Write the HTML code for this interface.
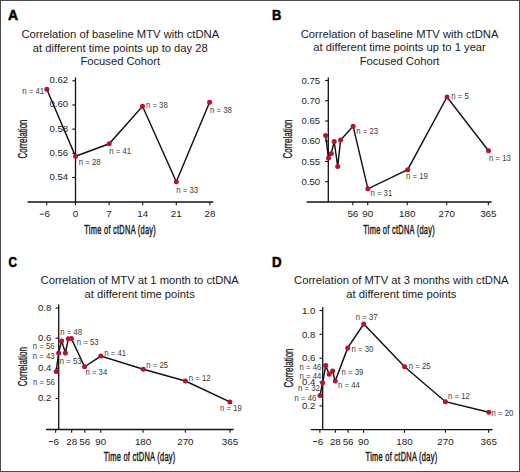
<!DOCTYPE html>
<html><head><meta charset="utf-8"><style>
html,body{margin:0;padding:0;background:#fff;}
body{width:520px;height:472px;overflow:hidden;}
svg{display:block;font-family:"Liberation Sans", sans-serif;}
</style></head><body>
<svg width="520" height="472" viewBox="0 0 520 472">
<rect x="0" y="0" width="520" height="472" fill="#fff"/>
<text x="120.30" y="38.00" font-size="11.22" text-anchor="middle" fill="#1a1a1a" font-weight="normal" >Correlation of baseline MTV with ctDNA</text>
<text x="120.30" y="51.50" font-size="11.22" text-anchor="middle" fill="#1a1a1a" font-weight="normal" >at different time points up to day 28</text>
<text x="120.30" y="65.00" font-size="11.22" text-anchor="middle" fill="#1a1a1a" font-weight="normal" >Focused Cohort</text>
<text transform="translate(8.1,19.7) scale(1,1)" font-size="14" font-weight="bold" fill="#000" stroke="#000" stroke-width="0.55">A</text>
<line x1="75.5" y1="77.5" x2="75.5" y2="202.0" stroke="#111" stroke-width="1.3"/>
<line x1="27.5" y1="202.0" x2="213.3" y2="202.0" stroke="#111" stroke-width="1.3"/>
<line x1="72.3" y1="80.8" x2="75.5" y2="80.8" stroke="#111" stroke-width="1.1"/>
<text x="68.15" y="83.30" font-size="9.55" text-anchor="end" fill="#222" font-weight="normal" >0.62</text>
<line x1="72.3" y1="104.98" x2="75.5" y2="104.98" stroke="#111" stroke-width="1.1"/>
<text x="68.15" y="107.48" font-size="9.55" text-anchor="end" fill="#222" font-weight="normal" >0.60</text>
<line x1="72.3" y1="129.15" x2="75.5" y2="129.15" stroke="#111" stroke-width="1.1"/>
<text x="68.15" y="131.65" font-size="9.55" text-anchor="end" fill="#222" font-weight="normal" >0.58</text>
<line x1="72.3" y1="153.32" x2="75.5" y2="153.32" stroke="#111" stroke-width="1.1"/>
<text x="68.15" y="155.82" font-size="9.55" text-anchor="end" fill="#222" font-weight="normal" >0.56</text>
<line x1="72.3" y1="177.5" x2="75.5" y2="177.5" stroke="#111" stroke-width="1.1"/>
<text x="68.15" y="180.00" font-size="9.55" text-anchor="end" fill="#222" font-weight="normal" >0.54</text>
<line x1="46.7" y1="202.0" x2="46.7" y2="205.2" stroke="#111" stroke-width="1.1"/>
<text x="47.20" y="217.40" font-size="9.8" text-anchor="middle" fill="#222" font-weight="normal" >6</text>
<rect x="39.83" y="213.70" width="4.1" height="0.9" fill="#222"/>
<line x1="75.5" y1="202.0" x2="75.5" y2="205.2" stroke="#111" stroke-width="1.1"/>
<text x="75.50" y="217.40" font-size="9.8" text-anchor="middle" fill="#222" font-weight="normal" >0</text>
<line x1="109.1" y1="202.0" x2="109.1" y2="205.2" stroke="#111" stroke-width="1.1"/>
<text x="109.10" y="217.40" font-size="9.8" text-anchor="middle" fill="#222" font-weight="normal" >7</text>
<line x1="142.7" y1="202.0" x2="142.7" y2="205.2" stroke="#111" stroke-width="1.1"/>
<text x="142.70" y="217.40" font-size="9.8" text-anchor="middle" fill="#222" font-weight="normal" >14</text>
<line x1="176.3" y1="202.0" x2="176.3" y2="205.2" stroke="#111" stroke-width="1.1"/>
<text x="176.30" y="217.40" font-size="9.8" text-anchor="middle" fill="#222" font-weight="normal" >21</text>
<line x1="209.9" y1="202.0" x2="209.9" y2="205.2" stroke="#111" stroke-width="1.1"/>
<text x="209.90" y="217.40" font-size="9.8" text-anchor="middle" fill="#222" font-weight="normal" >28</text>
<text transform="translate(120.20,233.90) scale(0.6,1)" x="0" y="0" font-size="12.4" letter-spacing="0.45" text-anchor="middle" fill="#1a1a1a" stroke="#1a1a1a" stroke-width="0.45">Time of ctDNA (day)</text>
<text transform="translate(27.30,139.00) rotate(-90) scale(0.645,1)" x="0" y="0" font-size="12.4" text-anchor="middle" fill="#1a1a1a" stroke="#1a1a1a" stroke-width="0.3">Correlation</text>
<polyline points="46.8,89.2 75.5,156.3 109.2,143.8 142.5,106.3 176.3,181.8 209.6,102.3" fill="none" stroke="#111" stroke-width="1.45" stroke-linejoin="miter"/>
<circle cx="46.8" cy="89.2" r="2.5" fill="#bd0f2f"/>
<circle cx="75.5" cy="156.3" r="2.5" fill="#bd0f2f"/>
<circle cx="109.2" cy="143.8" r="2.5" fill="#bd0f2f"/>
<circle cx="142.5" cy="106.3" r="2.5" fill="#bd0f2f"/>
<circle cx="176.3" cy="181.8" r="2.5" fill="#bd0f2f"/>
<circle cx="209.6" cy="102.3" r="2.5" fill="#bd0f2f"/>
<text transform="translate(22.20,94.20) scale(0.95,1)" font-size="8.2" fill="#3a3a3a">n = 41</text>
<text transform="translate(78.80,164.70) scale(0.95,1)" font-size="8.2" fill="#3a3a3a">n = 28</text>
<text transform="translate(109.30,154.20) scale(0.95,1)" font-size="8.2" fill="#3a3a3a">n = 41</text>
<text transform="translate(145.90,108.00) scale(0.95,1)" font-size="8.2" fill="#3a3a3a">n = 38</text>
<text transform="translate(176.30,193.00) scale(0.95,1)" font-size="8.2" fill="#3a3a3a">n = 33</text>
<text transform="translate(210.00,112.50) scale(0.95,1)" font-size="8.2" fill="#3a3a3a">n = 38</text>
<text x="399.60" y="37.80" font-size="11.22" text-anchor="middle" fill="#1a1a1a" font-weight="normal" >Correlation of baseline MTV with ctDNA</text>
<text x="399.60" y="51.30" font-size="11.22" text-anchor="middle" fill="#1a1a1a" font-weight="normal" >at different time points up to 1 year</text>
<text x="399.60" y="64.80" font-size="11.22" text-anchor="middle" fill="#1a1a1a" font-weight="normal" >Focused Cohort</text>
<text transform="translate(272.0,20.0) scale(0.92,1)" font-size="14" font-weight="bold" fill="#000" stroke="#000" stroke-width="0.55">B</text>
<line x1="328.3" y1="77.5" x2="328.3" y2="202.0" stroke="#111" stroke-width="1.3"/>
<line x1="306.7" y1="202.0" x2="491.7" y2="202.0" stroke="#111" stroke-width="1.3"/>
<line x1="325.1" y1="80.5" x2="328.3" y2="80.5" stroke="#111" stroke-width="1.1"/>
<text x="320.20" y="83.60" font-size="9.55" text-anchor="end" fill="#222" font-weight="normal" >0.75</text>
<line x1="325.1" y1="100.74" x2="328.3" y2="100.74" stroke="#111" stroke-width="1.1"/>
<text x="320.20" y="103.84" font-size="9.55" text-anchor="end" fill="#222" font-weight="normal" >0.70</text>
<line x1="325.1" y1="120.98" x2="328.3" y2="120.98" stroke="#111" stroke-width="1.1"/>
<text x="320.20" y="124.08" font-size="9.55" text-anchor="end" fill="#222" font-weight="normal" >0.65</text>
<line x1="325.1" y1="141.22" x2="328.3" y2="141.22" stroke="#111" stroke-width="1.1"/>
<text x="320.20" y="144.32" font-size="9.55" text-anchor="end" fill="#222" font-weight="normal" >0.60</text>
<line x1="325.1" y1="161.46" x2="328.3" y2="161.46" stroke="#111" stroke-width="1.1"/>
<text x="320.20" y="164.56" font-size="9.55" text-anchor="end" fill="#222" font-weight="normal" >0.55</text>
<line x1="325.1" y1="181.7" x2="328.3" y2="181.7" stroke="#111" stroke-width="1.1"/>
<text x="320.20" y="184.80" font-size="9.55" text-anchor="end" fill="#222" font-weight="normal" >0.50</text>
<line x1="352.86" y1="202.0" x2="352.86" y2="205.2" stroke="#111" stroke-width="1.1"/>
<text x="352.86" y="217.40" font-size="9.8" text-anchor="middle" fill="#222" font-weight="normal" >56</text>
<line x1="367.76" y1="202.0" x2="367.76" y2="205.2" stroke="#111" stroke-width="1.1"/>
<text x="367.76" y="217.40" font-size="9.8" text-anchor="middle" fill="#222" font-weight="normal" >90</text>
<line x1="407.23" y1="202.0" x2="407.23" y2="205.2" stroke="#111" stroke-width="1.1"/>
<text x="407.23" y="217.40" font-size="9.8" text-anchor="middle" fill="#222" font-weight="normal" >180</text>
<line x1="446.69" y1="202.0" x2="446.69" y2="205.2" stroke="#111" stroke-width="1.1"/>
<text x="446.69" y="217.40" font-size="9.8" text-anchor="middle" fill="#222" font-weight="normal" >270</text>
<line x1="488.35" y1="202.0" x2="488.35" y2="205.2" stroke="#111" stroke-width="1.1"/>
<text x="488.35" y="217.40" font-size="9.8" text-anchor="middle" fill="#222" font-weight="normal" >365</text>
<text transform="translate(399.10,233.90) scale(0.6,1)" x="0" y="0" font-size="12.4" letter-spacing="0.45" text-anchor="middle" fill="#1a1a1a" stroke="#1a1a1a" stroke-width="0.45">Time of ctDNA (day)</text>
<text transform="translate(292.20,139.00) rotate(-90) scale(0.645,1)" x="0" y="0" font-size="12.4" text-anchor="middle" fill="#1a1a1a" stroke="#1a1a1a" stroke-width="0.3">Correlation</text>
<polyline points="325.6,135.6 328.5,157.9 331.3,153.5 334.2,141.5 337.7,166.5 340.6,140.0 353.1,126.2 367.9,188.8 407.7,169.7 447.0,97.0 488.5,150.8" fill="none" stroke="#111" stroke-width="1.45" stroke-linejoin="miter"/>
<circle cx="325.6" cy="135.6" r="2.5" fill="#bd0f2f"/>
<circle cx="328.5" cy="157.9" r="2.5" fill="#bd0f2f"/>
<circle cx="331.3" cy="153.5" r="2.5" fill="#bd0f2f"/>
<circle cx="334.2" cy="141.5" r="2.5" fill="#bd0f2f"/>
<circle cx="337.7" cy="166.5" r="2.5" fill="#bd0f2f"/>
<circle cx="340.6" cy="140.0" r="2.5" fill="#bd0f2f"/>
<circle cx="353.1" cy="126.2" r="2.5" fill="#bd0f2f"/>
<circle cx="367.9" cy="188.8" r="2.5" fill="#bd0f2f"/>
<circle cx="407.7" cy="169.7" r="2.5" fill="#bd0f2f"/>
<circle cx="447.0" cy="97.0" r="2.5" fill="#bd0f2f"/>
<circle cx="488.5" cy="150.8" r="2.5" fill="#bd0f2f"/>
<text transform="translate(356.30,134.30) scale(0.95,1)" font-size="8.2" fill="#3a3a3a">n = 23</text>
<text transform="translate(370.40,195.70) scale(0.95,1)" font-size="8.2" fill="#3a3a3a">n = 31</text>
<text transform="translate(406.00,179.40) scale(0.95,1)" font-size="8.2" fill="#3a3a3a">n = 19</text>
<text transform="translate(451.20,98.80) scale(0.95,1)" font-size="8.2" fill="#3a3a3a">n = 5</text>
<text transform="translate(489.00,161.00) scale(0.95,1)" font-size="8.2" fill="#3a3a3a">n = 13</text>
<text x="139.70" y="284.30" font-size="11.22" text-anchor="middle" fill="#1a1a1a" font-weight="normal" >Correlation of MTV at 1 month to ctDNA</text>
<text x="139.70" y="298.20" font-size="11.22" text-anchor="middle" fill="#1a1a1a" font-weight="normal" >at different time points</text>
<text transform="translate(8.6,266.5) scale(0.84,1)" font-size="14" font-weight="bold" fill="#000" stroke="#000" stroke-width="0.55">C</text>
<line x1="58.7" y1="304.5" x2="58.7" y2="429.5" stroke="#111" stroke-width="1.3"/>
<line x1="46.0" y1="429.5" x2="233.7" y2="429.5" stroke="#111" stroke-width="1.3"/>
<line x1="55.5" y1="308.0" x2="58.7" y2="308.0" stroke="#111" stroke-width="1.1"/>
<text x="51.35" y="310.80" font-size="9.55" text-anchor="end" fill="#222" font-weight="normal" >0.8</text>
<line x1="55.5" y1="338.17" x2="58.7" y2="338.17" stroke="#111" stroke-width="1.1"/>
<text x="51.35" y="340.97" font-size="9.55" text-anchor="end" fill="#222" font-weight="normal" >0.6</text>
<line x1="55.5" y1="368.34" x2="58.7" y2="368.34" stroke="#111" stroke-width="1.1"/>
<text x="51.35" y="371.14" font-size="9.55" text-anchor="end" fill="#222" font-weight="normal" >0.4</text>
<line x1="55.5" y1="398.51" x2="58.7" y2="398.51" stroke="#111" stroke-width="1.1"/>
<text x="51.35" y="401.31" font-size="9.55" text-anchor="end" fill="#222" font-weight="normal" >0.2</text>
<line x1="55.68" y1="429.5" x2="55.68" y2="432.7" stroke="#111" stroke-width="1.1"/>
<text x="56.18" y="444.80" font-size="9.8" text-anchor="middle" fill="#222" font-weight="normal" >6</text>
<rect x="48.81" y="441.10" width="4.1" height="0.9" fill="#222"/>
<line x1="71.66" y1="429.5" x2="71.66" y2="432.7" stroke="#111" stroke-width="1.1"/>
<text x="71.66" y="444.80" font-size="9.8" text-anchor="middle" fill="#222" font-weight="normal" >28</text>
<line x1="84.81" y1="429.5" x2="84.81" y2="432.7" stroke="#111" stroke-width="1.1"/>
<text x="84.81" y="444.80" font-size="9.8" text-anchor="middle" fill="#222" font-weight="normal" >56</text>
<line x1="100.79" y1="429.5" x2="100.79" y2="432.7" stroke="#111" stroke-width="1.1"/>
<text x="100.79" y="444.80" font-size="9.8" text-anchor="middle" fill="#222" font-weight="normal" >90</text>
<line x1="143.08" y1="429.5" x2="143.08" y2="432.7" stroke="#111" stroke-width="1.1"/>
<text x="143.08" y="444.80" font-size="9.8" text-anchor="middle" fill="#222" font-weight="normal" >180</text>
<line x1="185.37" y1="429.5" x2="185.37" y2="432.7" stroke="#111" stroke-width="1.1"/>
<text x="185.37" y="444.80" font-size="9.8" text-anchor="middle" fill="#222" font-weight="normal" >270</text>
<line x1="230.01" y1="429.5" x2="230.01" y2="432.7" stroke="#111" stroke-width="1.1"/>
<text x="230.01" y="444.80" font-size="9.8" text-anchor="middle" fill="#222" font-weight="normal" >365</text>
<text transform="translate(139.65,461.00) scale(0.6,1)" x="0" y="0" font-size="12.4" letter-spacing="0.45" text-anchor="middle" fill="#1a1a1a" stroke="#1a1a1a" stroke-width="0.45">Time of ctDNA (day)</text>
<text transform="translate(26.90,366.70) rotate(-90) scale(0.645,1)" x="0" y="0" font-size="12.4" text-anchor="middle" fill="#1a1a1a" stroke="#1a1a1a" stroke-width="0.3">Correlation</text>
<polyline points="56.2,371.5 58.6,353.0 61.6,340.9 65.4,353.0 68.3,338.8 71.4,338.6 84.6,366.8 100.8,356.1 143.3,369.2 185.4,381.0 229.9,401.9" fill="none" stroke="#111" stroke-width="1.45" stroke-linejoin="miter"/>
<circle cx="56.2" cy="371.5" r="2.5" fill="#bd0f2f"/>
<circle cx="58.6" cy="353.0" r="2.5" fill="#bd0f2f"/>
<circle cx="61.6" cy="340.9" r="2.5" fill="#bd0f2f"/>
<circle cx="65.4" cy="353.0" r="2.5" fill="#bd0f2f"/>
<circle cx="68.3" cy="338.8" r="2.5" fill="#bd0f2f"/>
<circle cx="71.4" cy="338.6" r="2.5" fill="#bd0f2f"/>
<circle cx="84.6" cy="366.8" r="2.5" fill="#bd0f2f"/>
<circle cx="100.8" cy="356.1" r="2.5" fill="#bd0f2f"/>
<circle cx="143.3" cy="369.2" r="2.5" fill="#bd0f2f"/>
<circle cx="185.4" cy="381.0" r="2.5" fill="#bd0f2f"/>
<circle cx="229.9" cy="401.9" r="2.5" fill="#bd0f2f"/>
<text transform="translate(33.00,384.50) scale(0.95,1)" font-size="8.2" fill="#3a3a3a">n = 56</text>
<text transform="translate(32.80,359.10) scale(0.95,1)" font-size="8.2" fill="#3a3a3a">n = 43</text>
<text transform="translate(32.80,349.20) scale(0.95,1)" font-size="8.2" fill="#3a3a3a">n = 56</text>
<text transform="translate(59.70,364.00) scale(0.95,1)" font-size="8.2" fill="#3a3a3a">n = 53</text>
<text transform="translate(60.30,335.10) scale(0.95,1)" font-size="8.2" fill="#3a3a3a">n = 48</text>
<text transform="translate(76.80,344.80) scale(0.95,1)" font-size="8.2" fill="#3a3a3a">n = 53</text>
<text transform="translate(85.40,375.30) scale(0.95,1)" font-size="8.2" fill="#3a3a3a">n = 34</text>
<text transform="translate(104.20,356.20) scale(0.95,1)" font-size="8.2" fill="#3a3a3a">n = 41</text>
<text transform="translate(146.20,368.30) scale(0.95,1)" font-size="8.2" fill="#3a3a3a">n = 25</text>
<text transform="translate(188.70,381.00) scale(0.95,1)" font-size="8.2" fill="#3a3a3a">n = 12</text>
<text transform="translate(220.00,410.80) scale(0.95,1)" font-size="8.2" fill="#3a3a3a">n = 19</text>
<text x="401.30" y="284.30" font-size="11.22" text-anchor="middle" fill="#1a1a1a" font-weight="normal" >Correlation of MTV at 3 months with ctDNA</text>
<text x="401.30" y="298.20" font-size="11.22" text-anchor="middle" fill="#1a1a1a" font-weight="normal" >at different time points</text>
<text transform="translate(272.0,266.5) scale(0.95,1)" font-size="14" font-weight="bold" fill="#000" stroke="#000" stroke-width="0.55">D</text>
<line x1="322.7" y1="307.2" x2="322.7" y2="429.6" stroke="#111" stroke-width="1.3"/>
<line x1="310.8" y1="429.6" x2="492.6" y2="429.6" stroke="#111" stroke-width="1.3"/>
<line x1="319.5" y1="310.5" x2="322.7" y2="310.5" stroke="#111" stroke-width="1.1"/>
<text x="315.35" y="313.70" font-size="9.55" text-anchor="end" fill="#222" font-weight="normal" >1.0</text>
<line x1="319.5" y1="334.34" x2="322.7" y2="334.34" stroke="#111" stroke-width="1.1"/>
<text x="315.35" y="337.54" font-size="9.55" text-anchor="end" fill="#222" font-weight="normal" >0.8</text>
<line x1="319.5" y1="358.18" x2="322.7" y2="358.18" stroke="#111" stroke-width="1.1"/>
<text x="315.35" y="361.38" font-size="9.55" text-anchor="end" fill="#222" font-weight="normal" >0.6</text>
<line x1="319.5" y1="382.02" x2="322.7" y2="382.02" stroke="#111" stroke-width="1.1"/>
<text x="315.35" y="385.22" font-size="9.55" text-anchor="end" fill="#222" font-weight="normal" >0.4</text>
<line x1="319.5" y1="405.86" x2="322.7" y2="405.86" stroke="#111" stroke-width="1.1"/>
<text x="315.35" y="409.06" font-size="9.55" text-anchor="end" fill="#222" font-weight="normal" >0.2</text>
<line x1="319.87" y1="429.6" x2="319.87" y2="432.8" stroke="#111" stroke-width="1.1"/>
<text x="320.37" y="444.70" font-size="9.8" text-anchor="middle" fill="#222" font-weight="normal" >6</text>
<rect x="313.00" y="441.00" width="4.1" height="0.9" fill="#222"/>
<line x1="335.34" y1="429.6" x2="335.34" y2="432.8" stroke="#111" stroke-width="1.1"/>
<text x="335.34" y="444.70" font-size="9.8" text-anchor="middle" fill="#222" font-weight="normal" >28</text>
<line x1="348.08" y1="429.6" x2="348.08" y2="432.8" stroke="#111" stroke-width="1.1"/>
<text x="348.08" y="444.70" font-size="9.8" text-anchor="middle" fill="#222" font-weight="normal" >56</text>
<line x1="363.55" y1="429.6" x2="363.55" y2="432.8" stroke="#111" stroke-width="1.1"/>
<text x="363.55" y="444.70" font-size="9.8" text-anchor="middle" fill="#222" font-weight="normal" >90</text>
<line x1="404.5" y1="429.6" x2="404.5" y2="432.8" stroke="#111" stroke-width="1.1"/>
<text x="404.50" y="444.70" font-size="9.8" text-anchor="middle" fill="#222" font-weight="normal" >180</text>
<line x1="445.45" y1="429.6" x2="445.45" y2="432.8" stroke="#111" stroke-width="1.1"/>
<text x="445.45" y="444.70" font-size="9.8" text-anchor="middle" fill="#222" font-weight="normal" >270</text>
<line x1="488.68" y1="429.6" x2="488.68" y2="432.8" stroke="#111" stroke-width="1.1"/>
<text x="488.68" y="444.70" font-size="9.8" text-anchor="middle" fill="#222" font-weight="normal" >365</text>
<text transform="translate(401.50,460.60) scale(0.6,1)" x="0" y="0" font-size="12.4" letter-spacing="0.45" text-anchor="middle" fill="#1a1a1a" stroke="#1a1a1a" stroke-width="0.45">Time of ctDNA (day)</text>
<text transform="translate(292.60,368.00) rotate(-90) scale(0.645,1)" x="0" y="0" font-size="12.4" text-anchor="middle" fill="#1a1a1a" stroke="#1a1a1a" stroke-width="0.3">Correlation</text>
<polyline points="320.0,395.5 322.6,382.8 325.7,365.5 329.2,374.2 332.6,370.9 335.2,381.1 347.7,347.9 363.7,324.0 404.6,366.7 445.4,401.7 488.9,412.2" fill="none" stroke="#111" stroke-width="1.45" stroke-linejoin="miter"/>
<circle cx="320.0" cy="395.5" r="2.5" fill="#bd0f2f"/>
<circle cx="322.6" cy="382.8" r="2.5" fill="#bd0f2f"/>
<circle cx="325.7" cy="365.5" r="2.5" fill="#bd0f2f"/>
<circle cx="329.2" cy="374.2" r="2.5" fill="#bd0f2f"/>
<circle cx="332.6" cy="370.9" r="2.5" fill="#bd0f2f"/>
<circle cx="335.2" cy="381.1" r="2.5" fill="#bd0f2f"/>
<circle cx="347.7" cy="347.9" r="2.5" fill="#bd0f2f"/>
<circle cx="363.7" cy="324.0" r="2.5" fill="#bd0f2f"/>
<circle cx="404.6" cy="366.7" r="2.5" fill="#bd0f2f"/>
<circle cx="445.4" cy="401.7" r="2.5" fill="#bd0f2f"/>
<circle cx="488.9" cy="412.2" r="2.5" fill="#bd0f2f"/>
<text transform="translate(294.60,401.40) scale(0.95,1)" font-size="8.2" fill="#3a3a3a">n = 46</text>
<text transform="translate(298.00,391.10) scale(0.95,1)" font-size="8.2" fill="#3a3a3a">n = 32</text>
<text transform="translate(299.50,370.30) scale(0.95,1)" font-size="8.2" fill="#3a3a3a">n = 46</text>
<text transform="translate(299.50,379.20) scale(0.95,1)" font-size="8.2" fill="#3a3a3a">n = 44</text>
<text transform="translate(341.50,375.20) scale(0.95,1)" font-size="8.2" fill="#3a3a3a">n = 39</text>
<text transform="translate(338.00,387.70) scale(0.95,1)" font-size="8.2" fill="#3a3a3a">n = 44</text>
<text transform="translate(351.50,352.20) scale(0.95,1)" font-size="8.2" fill="#3a3a3a">n = 30</text>
<text transform="translate(355.80,320.30) scale(0.95,1)" font-size="8.2" fill="#3a3a3a">n = 37</text>
<text transform="translate(408.80,368.80) scale(0.95,1)" font-size="8.2" fill="#3a3a3a">n = 25</text>
<text transform="translate(448.00,399.10) scale(0.95,1)" font-size="8.2" fill="#3a3a3a">n = 12</text>
<text transform="translate(491.50,415.50) scale(0.95,1)" font-size="8.2" fill="#3a3a3a">n = 20</text>
<rect x="0.5" y="0.5" width="519" height="471" fill="none" stroke="#4a4a4a" stroke-width="1"/>
</svg>
</body></html>
